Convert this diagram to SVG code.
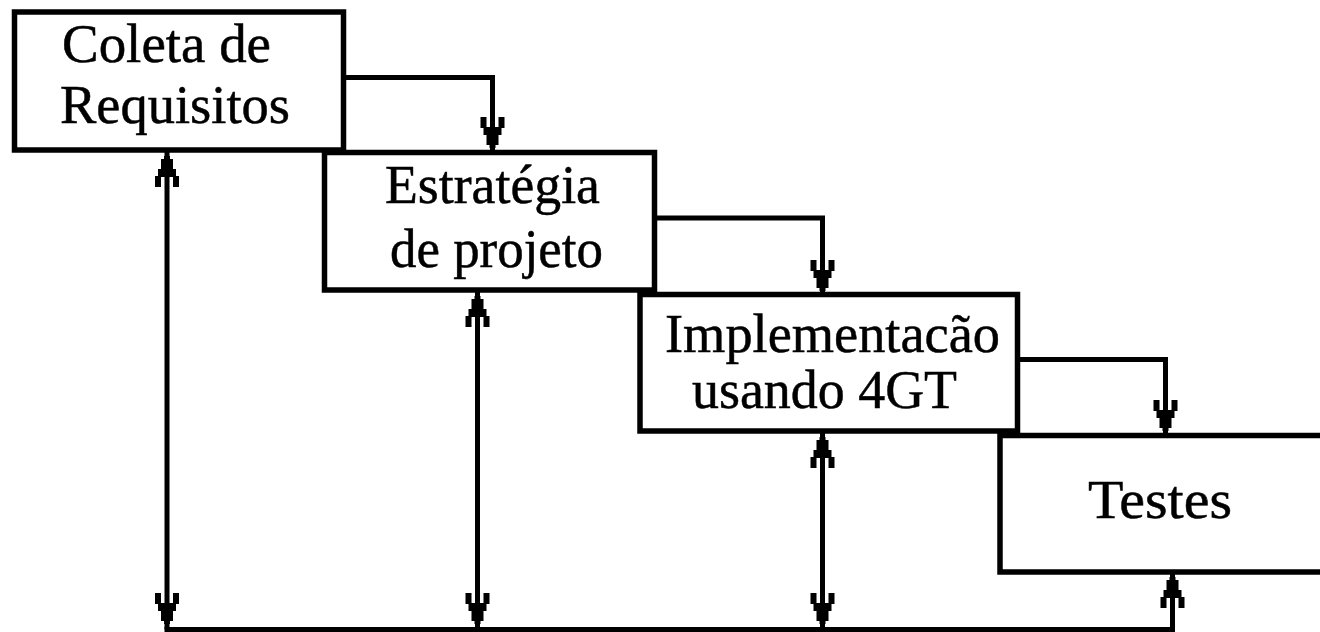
<svg xmlns="http://www.w3.org/2000/svg" width="1320" height="632" viewBox="0 0 1320 632">
<style>
.box{fill:#fff;stroke:#000;stroke-width:5.5}
.lbl{font-family:"Liberation Serif","Times New Roman",serif;font-size:55px;fill:#000;stroke:#000;stroke-width:0.5}
.con{fill:none;stroke:#000;stroke-width:5}
.ah{fill:#000}
</style>
<defs>
<path id="ah" class="ah" d="M -12 -31 H -6 V -21 H 6 V -31 H 12 V -20 H 9 V -13 H 6 V -3 H 3 V 0 H -3 V -3 H -6 V -13 H -9 V -20 H -12 Z"/>
</defs>
<rect width="1320" height="632" fill="#fff"/>
<g id="connectors">
<path class="con" d="M 343.5 77.5 H 492.5 V 152"/>
<path class="con" d="M 654.5 218 H 822.5 V 294"/>
<path class="con" d="M 1017.5 359.5 H 1165.5 V 435"/>
<path class="con" d="M 167 150 V 629.5"/>
<path class="con" d="M 477.5 290 V 629.5"/>
<path class="con" d="M 822.5 431 V 629.5"/>
<path class="con" d="M 1172.5 572 V 629.5"/>
<path class="con" d="M 164.5 629.5 H 1175"/>
<use href="#ah" transform="translate(492.5,148)"/>
<use href="#ah" transform="translate(822.5,291)"/>
<use href="#ah" transform="translate(1165.5,431)"/>
<use href="#ah" transform="translate(167,156) rotate(180)"/>
<use href="#ah" transform="translate(167,624)"/>
<use href="#ah" transform="translate(477.5,296) rotate(180)"/>
<use href="#ah" transform="translate(477.5,624)"/>
<use href="#ah" transform="translate(822.5,437) rotate(180)"/>
<use href="#ah" transform="translate(822.5,624)"/>
<use href="#ah" transform="translate(1172.5,577) rotate(180)"/>
</g>
<g id="node-coleta">
<rect class="box" x="14.5" y="12" width="329" height="138"/>
<text class="lbl" x="62" y="62" textLength="209" lengthAdjust="spacingAndGlyphs">Coleta de</text>
<text class="lbl" x="60" y="123" textLength="230" lengthAdjust="spacingAndGlyphs">Requisitos</text>
</g>
<g id="node-estrategia">
<rect class="box" x="324.5" y="152.5" width="330" height="137.5"/>
<text class="lbl" x="385" y="203" textLength="215" lengthAdjust="spacingAndGlyphs">Estratégia</text>
<text class="lbl" x="390" y="267" textLength="213" lengthAdjust="spacingAndGlyphs">de projeto</text>
</g>
<g id="node-implementacao">
<rect class="box" x="640" y="294.5" width="377.5" height="136.5"/>
<text class="lbl" x="665" y="352" textLength="335" lengthAdjust="spacingAndGlyphs">Implementacão</text>
<text class="lbl" x="692" y="408" textLength="265" lengthAdjust="spacingAndGlyphs">usando 4GT</text>
</g>
<g id="node-testes">
<path class="box" d="M 1330 435.5 H 1000 V 572 H 1330"/>
<text class="lbl" x="1088" y="518" textLength="144" lengthAdjust="spacingAndGlyphs">Testes</text>
</g>
</svg>
